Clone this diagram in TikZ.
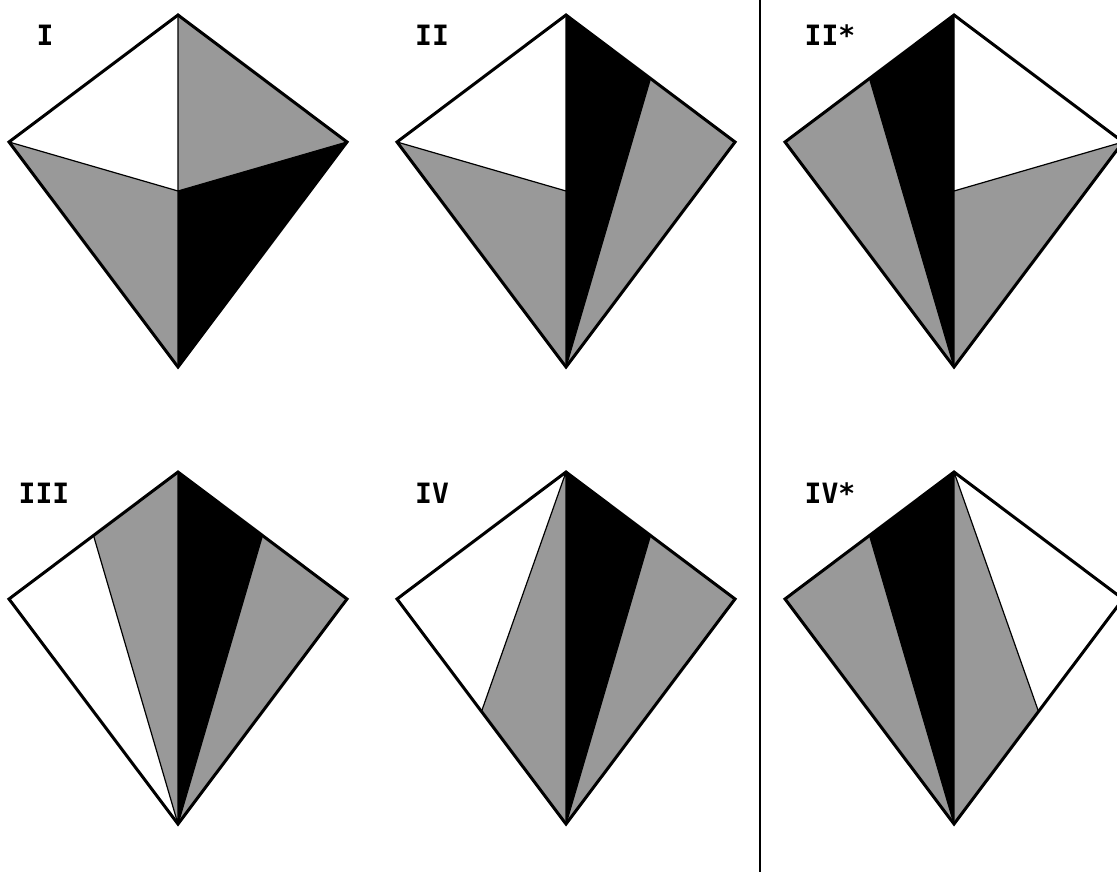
\documentclass[tikz,border=0pt]{standalone}
\usepackage{fontspec}
\newfontfamily\labelfont{DejaVu Sans Mono Bold}

% corners and edge midpoints of one kite, top vertex at the origin
\newcommand\kitecorners{%
  \coordinate (t) at (0,0);
  \coordinate (l) at (-169,127);
  \coordinate (r) at (169,127);
  \coordinate (b) at (0,352);
  \coordinate (c) at (0,176);
  \coordinate (mtl) at ($(t)!0.5!(l)$);
  \coordinate (mtr) at ($(t)!0.5!(r)$);
  \coordinate (mbl) at ($(l)!0.5!(b)$);
  \coordinate (mbr) at ($(r)!0.5!(b)$);
}
\usetikzlibrary{calc}

\begin{document}
\begin{tikzpicture}[x=1pt,y=-1pt]
\tikzset{
  outline/.style={line width=3pt,line join=miter},
  split/.style={line width=1.2pt},
  greypart/.style={fill=black!40},
  blackpart/.style={fill=black},
  kitelabel/.style={font=\labelfont\fontsize{28}{28}\selectfont,anchor=base,inner sep=0pt}
}
\useasboundingbox (0,0) rectangle (1117,872);

% I
\begin{scope}[shift={(178,15)}]
\kitecorners
\fill[greypart] (t) -- (r) -- (c) -- cycle;
\fill[greypart] (l) -- (c) -- (b) -- cycle;
\fill[blackpart] (c) -- (r) -- (b) -- cycle;
\draw[split] (t) -- (b) (l) -- (c) -- (r);
\draw[outline] (t) -- (r) -- (b) -- (l) -- cycle;
\end{scope}
\node[kitelabel] (lab1) at (45,46) {I};

% II
\begin{scope}[shift={(566,15)}]
\kitecorners
\fill[greypart] (l) -- (c) -- (b) -- cycle;
\fill[blackpart] (t) -- (mtr) -- (b) -- cycle;
\fill[greypart] (mtr) -- (r) -- (b) -- cycle;
\draw[split] (l) -- (c) (t) -- (b) (mtr) -- (b);
\draw[outline] (t) -- (r) -- (b) -- (l) -- cycle;
\end{scope}
\node[kitelabel] (lab2) at (432,46) {II};

% II*
\begin{scope}[shift={(954,15)}]
\kitecorners
\fill[greypart] (l) -- (mtl) -- (b) -- cycle;
\fill[blackpart] (mtl) -- (t) -- (b) -- cycle;
\fill[greypart] (c) -- (r) -- (b) -- cycle;
\draw[split] (mtl) -- (b) (t) -- (b) (r) -- (c);
\draw[outline] (t) -- (r) -- (b) -- (l) -- cycle;
\end{scope}
\node[kitelabel] (lab3) at (830,46) {II*};

% III
\begin{scope}[shift={(178,472)}]
\kitecorners
\fill[greypart] (mtl) -- (t) -- (b) -- cycle;
\fill[blackpart] (t) -- (mtr) -- (b) -- cycle;
\fill[greypart] (mtr) -- (r) -- (b) -- cycle;
\draw[split] (mtl) -- (b) (t) -- (b) (mtr) -- (b);
\draw[outline] (t) -- (r) -- (b) -- (l) -- cycle;
\end{scope}
\node[kitelabel] (lab4) at (44,503) {III};

% IV
\begin{scope}[shift={(566,472)}]
\kitecorners
\fill[greypart] (t) -- (mbl) -- (b) -- cycle;
\fill[blackpart] (t) -- (mtr) -- (b) -- cycle;
\fill[greypart] (mtr) -- (r) -- (b) -- cycle;
\draw[split] (t) -- (mbl) (t) -- (b) (mtr) -- (b);
\draw[outline] (t) -- (r) -- (b) -- (l) -- cycle;
\end{scope}
\node[kitelabel] (lab5) at (432,503) {IV};

% IV*
\begin{scope}[shift={(954,472)}]
\kitecorners
\fill[greypart] (l) -- (mtl) -- (b) -- cycle;
\fill[blackpart] (mtl) -- (t) -- (b) -- cycle;
\fill[greypart] (t) -- (b) -- (mbr) -- cycle;
\draw[split] (mtl) -- (b) (t) -- (b) (t) -- (mbr);
\draw[outline] (t) -- (r) -- (b) -- (l) -- cycle;
\end{scope}
\node[kitelabel] (lab6) at (830,503) {IV*};

% separator
\draw[line width=1.5pt] (760,0) -- (760,872);
\end{tikzpicture}
\end{document}
